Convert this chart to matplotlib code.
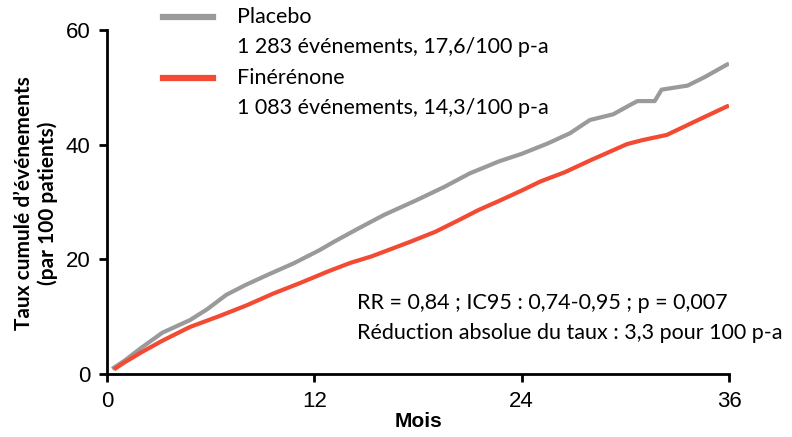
import matplotlib
matplotlib.use("Agg")
import matplotlib.pyplot as plt
from matplotlib import font_manager

# Cumulative event rate (per 100 patients) by month
months_placebo = [0.3, 1.0, 2.0, 3.2, 4.8, 5.8, 6.9, 8.0, 9.3, 10.8, 12.3, 13.1, 14.5, 16.0,
                  17.9, 19.5, 21.0, 22.7, 24.0, 25.5, 26.8, 27.95, 29.3, 30.2, 30.7, 31.7,
                  32.1, 33.6, 34.6, 35.9, 36.0]
placebo = [0.9, 2.3, 4.6, 7.2, 9.4, 11.3, 13.8, 15.5, 17.3, 19.3, 21.6, 23.0, 25.3, 27.7,
           30.3, 32.6, 35.0, 37.1, 38.4, 40.2, 42.0, 44.3, 45.3, 46.8, 47.6, 47.6,
           49.6, 50.3, 51.8, 54.0, 54.1]

months_finerenone = [0.4, 1.0, 2.0, 3.2, 4.8, 6.5, 8.1, 9.6, 11.2, 12.8, 14.1, 15.3, 17.5,
                     19.0, 20.4, 21.5, 22.7, 24.0, 25.1, 26.5, 28.0, 30.1, 31.0, 32.4, 34.0,
                     35.9, 36.0]
finerenone = [0.8, 2.0, 3.8, 5.8, 8.2, 10.1, 12.0, 14.0, 15.9, 17.9, 19.4, 20.5, 23.0,
              24.8, 26.9, 28.6, 30.2, 32.0, 33.6, 35.2, 37.3, 40.1, 40.8, 41.7, 44.0,
              46.7, 46.8]

x_ticks = [0, 12, 24, 36]
y_ticks = [0, 20, 40, 60]

legend_names = ["Placebo", "Finérénone"]
legend_details = ["1 283 événements, 17,6/100 p-a", "1 083 événements, 14,3/100 p-a"]
stats_lines = ["RR = 0,84 ; IC95 : 0,74-0,95 ; p = 0,007",
               "Réduction absolue du taux : 3,3 pour 100 p-a"]

GREY = "#9a9a9a"
RED = "#f24a33"

available = {f.name for f in font_manager.fontManager.ttflist}
text_font = "Lato" if "Lato" in available else "DejaVu Sans"
tick_font = "Liberation Sans Narrow" if "Liberation Sans Narrow" in available else "Liberation Sans"

fig = plt.figure(figsize=(7.92, 4.37), dpi=100)
ax = fig.add_axes([107 / 792, 1 - 374 / 437, (729 - 107) / 792, (374 - 30) / 437])

ax.plot(months_placebo, placebo, color=GREY, lw=3.0, solid_capstyle="butt")
ax.plot(months_finerenone, finerenone, color=RED, lw=3.0, solid_capstyle="butt")

ax.set_xlim(0, 36)
ax.set_ylim(0, 60)
ax.set_xticks(x_ticks)
ax.set_yticks(y_ticks)
for s in ["top", "right"]:
    ax.spines[s].set_visible(False)
for s in ["left", "bottom"]:
    ax.spines[s].set_linewidth(2.0)
ax.tick_params(direction="out", length=6, width=2.0, pad=6)
for lab in ax.get_xticklabels() + ax.get_yticklabels():
    lab.set_fontfamily(tick_font)
    lab.set_fontsize(16)

ax.set_xlabel("Mois", fontfamily=tick_font, fontweight="bold", fontsize=15, labelpad=0)
fig.text(36 / 792, 1 - 203 / 437, "Taux cumulé d\u2019événements\n(par 100 patients)",
         rotation=90, ha="center", va="center", fontfamily=text_font,
         fontweight="bold", fontsize=15, linespacing=1.2)

# Legend drawn in figure coordinates
for y_line, color, name, detail in [(17, GREY, legend_names[0], legend_details[0]),
                                    (78, RED, legend_names[1], legend_details[1])]:
    fig.add_artist(plt.Line2D([163 / 792, 213 / 792], [1 - y_line / 437] * 2,
                              color=color, lw=4.5, transform=fig.transFigure))
    fig.text(237 / 792, 1 - y_line / 437, name, ha="left", va="center",
             fontfamily=text_font, fontsize=15.5)
    fig.text(237 / 792, 1 - (y_line + 30) / 437, detail, ha="left", va="center",
             fontfamily=text_font, fontsize=15.5)

fig.text(357 / 792, 1 - 303 / 437, stats_lines[0], ha="left", va="center",
         fontfamily=text_font, fontsize=15.5)
fig.text(357 / 792, 1 - 333 / 437, stats_lines[1], ha="left", va="center",
         fontfamily=text_font, fontsize=15.5)

fig.savefig("out.png", dpi=100)
